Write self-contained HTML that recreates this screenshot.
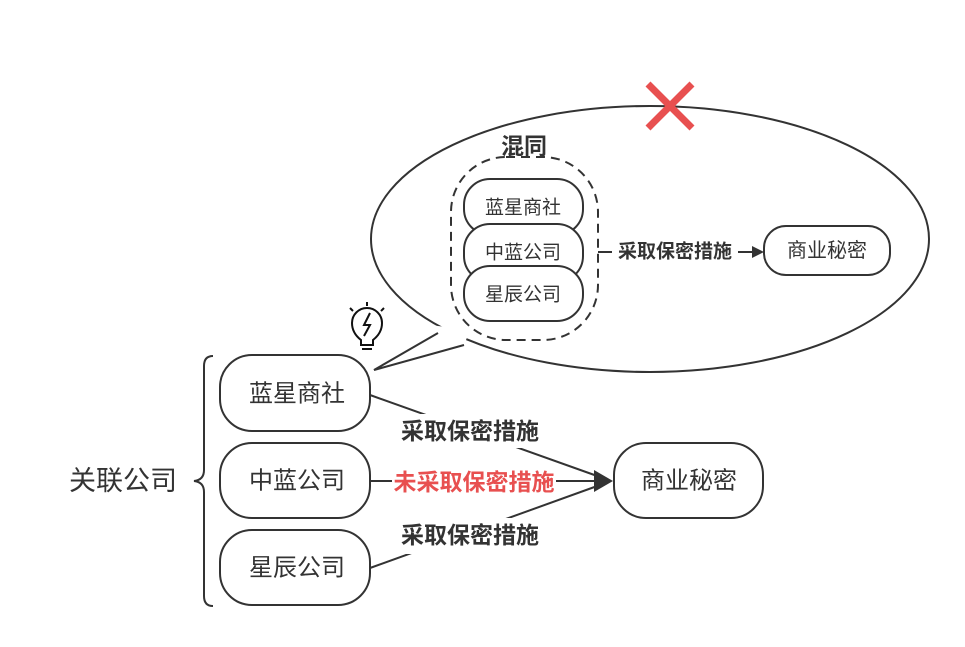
<!DOCTYPE html>
<html><head><meta charset="utf-8"><style>
body{margin:0;background:#fff;}
svg text{font-family:"Liberation Sans","Noto Sans CJK SC",sans-serif;}
</style></head><body>
<svg width="965" height="642" viewBox="0 0 965 642" xmlns="http://www.w3.org/2000/svg">
<g fill="none" stroke="#333" stroke-width="2">
<ellipse cx="650" cy="239" rx="279" ry="133" fill="#fff"/>
<polygon points="438,333 374,370 464,345 470,330 430,325" fill="#fff" stroke="none"/>
<polyline points="438,333 374,370 464,345"/>
<rect x="451" y="157" width="147" height="183" rx="55" stroke-dasharray="9,6"/>
<rect x="464" y="179" width="119" height="56" rx="26" fill="#fff"/>
<rect x="464" y="224" width="119" height="58" rx="26" fill="#fff"/>
<rect x="464" y="266" width="119" height="55" rx="26" fill="#fff"/>
<rect x="764" y="226" width="126" height="49" rx="22" fill="#fff"/>
<line x1="598" y1="252" x2="752" y2="252"/>
<rect x="220" y="355" width="150" height="76" rx="32" fill="#fff"/>
<rect x="220" y="443" width="150" height="75" rx="32" fill="#fff"/>
<rect x="220" y="530" width="150" height="75" rx="32" fill="#fff"/>
<rect x="614" y="443" width="149" height="75" rx="32" fill="#fff"/>
<line x1="370" y1="395" x2="600" y2="477"/>
<line x1="370" y1="481" x2="600" y2="481"/>
<line x1="370" y1="568" x2="600" y2="485"/>
<path d="M213,356 Q204,356 204,366 L204,470 Q204,480 194,481 Q204,482 204,492 L204,596 Q204,606 213,606"/>
</g>
<polygon points="764,252 752,246 752,258" fill="#333"/>
<polygon points="613,481 594,470 594,492" fill="#333"/>
<g stroke="#e85050" stroke-width="7" stroke-linecap="butt">
<line x1="648" y1="84" x2="692" y2="128"/><line x1="692" y1="84" x2="648" y2="128"/>
</g>
<g fill="none" stroke="#111" stroke-width="2">
<path d="M361,345 L361,340 Q352,333 352,323 A15,15 0 0,1 382,323 Q382,333 373,340 L373,345 Z"/>
<line x1="362" y1="349" x2="372" y2="349"/>
<path d="M370,313 L364,325 L370,325 L364,336"/>
<line x1="367" y1="302" x2="367" y2="306"/><line x1="350" y1="308" x2="353" y2="311"/><line x1="384" y1="308" x2="381" y2="311"/>
</g>
<g fill="#333" text-anchor="middle" dominant-baseline="central">
<text x="524" y="146" font-size="23" font-weight="bold">混同</text>
<text x="523" y="208" font-size="19">蓝星商社</text>
<text x="523" y="253" font-size="19">中蓝公司</text>
<text x="523" y="295" font-size="19">星辰公司</text>
<rect x="612" y="239" width="126" height="26" fill="#fff"/>
<text x="675" y="252" font-size="19" font-weight="bold">采取保密措施</text>
<text x="827" y="251" font-size="20">商业秘密</text>
<text x="297" y="394" font-size="24">蓝星商社</text>
<text x="297" y="481" font-size="24">中蓝公司</text>
<text x="297" y="568" font-size="24">星辰公司</text>
<text x="689" y="481" font-size="24">商业秘密</text>
<text x="123" y="481" font-size="27">关联公司</text>
<rect x="394" y="414" width="152" height="34" fill="#fff"/>
<text x="470" y="431" font-size="23" font-weight="bold">采取保密措施</text>
<rect x="392" y="466" width="164" height="30" fill="#fff"/>
<text x="474" y="482" font-size="23" font-weight="bold" fill="#e85050">未采取保密措施</text>
<rect x="394" y="518" width="152" height="36" fill="#fff"/>
<text x="470" y="535" font-size="23" font-weight="bold">采取保密措施</text>
</g>
</svg>
</body></html>
